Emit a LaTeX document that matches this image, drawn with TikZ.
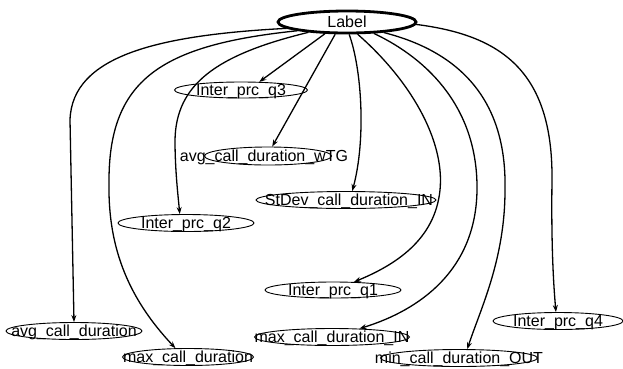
\documentclass[tikz,border=0pt]{standalone}
\usepackage{fontspec}
\setmainfont{Liberation Sans}
\usetikzlibrary{arrows.meta,shapes.geometric}
\begin{document}
\begin{tikzpicture}[x=1pt,y=-1pt,
  ell/.style={ellipse, draw=black, line width=0.9pt, fill=white, inner sep=0pt},
  lbl/.style={font=\fontsize{16}{17}\selectfont, inner sep=0pt, yshift=-1.5pt},
  edge/.style={draw=black, line width=1.3pt, -{Stealth[length=7pt,width=5pt]}}]
\useasboundingbox[fill=white] (0,0) rectangle (623,368);

% nodes
\node[ell, line width=2.8pt, minimum width=138pt, minimum height=22pt,
      label={[lbl,yshift=1.5pt]center:Label}] (lab) at (347,22) {};
\node[ell, minimum width=133pt, minimum height=16pt,
      label={[lbl]center:Inter\_prc\_q3}] (q3) at (241,90) {};
\node[ell, minimum width=127pt, minimum height=18pt,
      label={[lbl,xshift=-4pt]center:avg\_call\_duration\_wTG}] (wtg) at (268,156) {};
\node[ell, minimum width=180pt, minimum height=17pt,
      label={[lbl,xshift=3pt]center:StDev\_call\_duration\_IN}] (sd) at (346,200) {};
\node[ell, minimum width=136pt, minimum height=17pt,
      label={[lbl]center:Inter\_prc\_q2}] (q2) at (186,223) {};
\node[ell, minimum width=136pt, minimum height=16pt,
      label={[lbl]center:Inter\_prc\_q1}] (q1) at (333,290) {};
\node[ell, minimum width=136pt, minimum height=17pt,
      label={[lbl]center:avg\_call\_duration}] (avg) at (74,331) {};
\node[ell, minimum width=130pt, minimum height=17pt,
      label={[lbl]center:Inter\_prc\_q4}] (q4) at (558,321) {};
\node[ell, minimum width=155pt, minimum height=17pt,
      label={[lbl]center:max\_call\_duration\_IN}] (mi) at (332,337) {};
\node[ell, minimum width=131pt, minimum height=17pt,
      label={[lbl]center:max\_call\_duration}] (mcd) at (188,357) {};
\node[ell, minimum width=157pt, minimum height=17pt,
      label={[lbl]center:min\_call\_duration\_OUT}] (mo) at (459,358) {};

% edges
\draw[edge] (lab.186) .. controls (160,35) and (72,55) .. (70,120) -- (avg.north);
\draw[edge] (lab.190) .. controls (160,45) and (108,80) .. (109,184)
            .. controls (108,250) and (130,300) .. (mcd.145);
\draw[edge] (lab.195) .. controls (215,55) and (176,85) .. (175,140)
            .. controls (175,170) and (178,195) .. (q2.125);
\draw[edge] (lab.208) -- (q3.24);
\draw[edge] (lab.226) -- (wtg.66);
\draw[edge] (lab.280) .. controls (362,70) and (366,140) .. (sd.55);
\draw[edge] (lab.311) .. controls (410,80) and (445,140) .. (440,190)
            .. controls (435,240) and (395,265) .. (q1.21);
\draw[edge] (lab.337) .. controls (430,60) and (478,110) .. (477,190)
            .. controls (476,270) and (420,310) .. (mi.17);
\draw[edge] (lab.344) .. controls (460,52) and (507,100) .. (505,190)
            .. controls (505,260) and (480,310) .. (mo.47);
\draw[edge] (lab.358) .. controls (500,35) and (553,70) .. (552,180)
            .. controls (551,250) and (554,290) .. (q4.103);
\end{tikzpicture}
\end{document}
